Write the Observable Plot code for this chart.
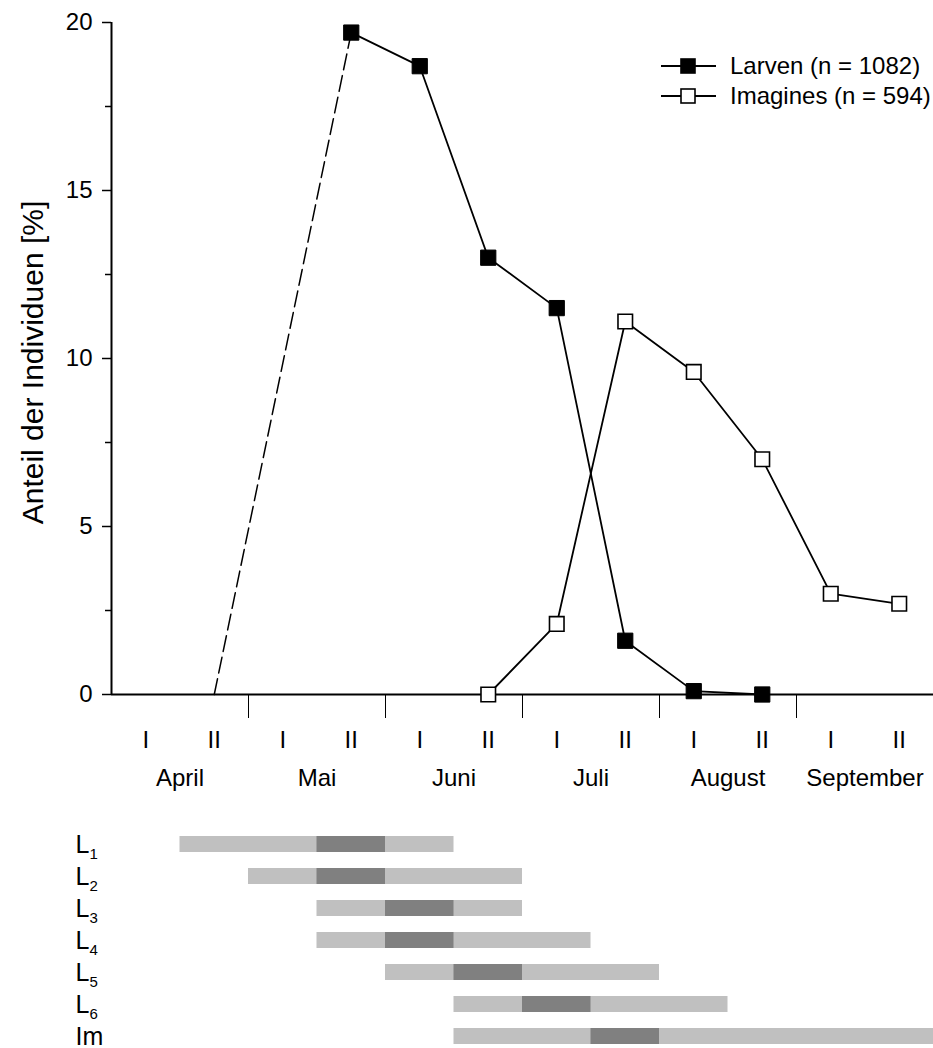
<!DOCTYPE html>
<html><head><meta charset="utf-8">
<script src="https://cdn.jsdelivr.net/npm/d3@7"></script>
<script src="https://cdn.jsdelivr.net/npm/@observablehq/plot@0.6"></script>
<style>
html,body{margin:0;padding:0;background:#fff;overflow:hidden;}
#wrap{position:relative;width:933px;font-family:"Liberation Sans",Arial,sans-serif;}
#wrap svg{display:block;}
#legend{position:absolute;left:0;top:0;pointer-events:none;}
</style></head><body><div id="wrap"></div>
<script>
// ---- data ----
const halfIdx = [0,1,2,3,4,5,6,7,8,9,10,11];
const halfLabels = ["I","II","I","II","I","II","I","II","I","II","I","II"];
const months = ["April","Mai","Juni","Juli","August","September"];
const monthPos = [0.5,2.5,4.5,6.5,8.5,10.5];
const monthSeps = [1.5,3.5,5.5,7.5,9.5];
const xDomain = [-0.5, 11.5];
const yTicks = [0,5,10,15,20];
const yMinorTicks = [2.5,7.5,12.5,17.5];

const seriesNames = ["Larven (n = 1082)", "Imagines (n = 594)"];
const larvenX = [3,4,5,6,7,8,9];
const larvenY = [19.7,18.7,13.0,11.5,1.6,0.1,0.0];
const larvenDashX = [1,3];
const larvenDashY = [0,19.7];
const imagX = [5,6,7,8,9,10,11];
const imagY = [0,2.1,11.1,9.6,7.0,3.0,2.7];

const stageMain = ["L","L","L","L","L","L","Im"];
const stageSub = ["1","2","3","4","5","6",""];
const stageFirst = [1,2,3,3,4,5,5];
const stageLast = [4,5,5,6,7,8,11];
const peakFirst = [3,3,4,4,5,6,7];
const peakLast = [3,3,4,4,5,6,7];

const yLabel = "Anteil der Individuen [%]";
const font = "Liberation Sans, Arial, sans-serif";

// ---- tables ----
const larven = larvenX.map((x,i)=>({x, y: larvenY[i]}));
const larvenDash = larvenDashX.map((x,i)=>({x, y: larvenDashY[i]}));
const imag = imagX.map((x,i)=>({x, y: imagY[i]}));
const rows = stageMain.map((m,i)=>({stage: m+stageSub[i], main: m, sub: stageSub[i],
  first: stageFirst[i], last: stageLast[i], pf: peakFirst[i], pl: peakLast[i]}));

const wrap = document.getElementById("wrap");

const topPlot = Plot.plot({
  width: 933, height: 800,
  marginTop: 22, marginBottom: 106, marginLeft: 111, marginRight: 0,
  style: {fontFamily: font, fontSize: "24px", color: "#000", background: "#fff", overflow: "visible"},
  x: {domain: xDomain, axis: null},
  y: {domain: [0, 20], axis: null},
  marks: [
    Plot.axisY({ticks: yTicks, tickSize: 9, tickPadding: 10, tickFormat: d => String(d), strokeWidth: 1.5, fontSize: 24, label: null}),
    Plot.axisY({ticks: yMinorTicks, tickSize: 6, tickFormat: () => "", strokeWidth: 1.5, label: null}),
    Plot.ruleX([xDomain[0]], {strokeWidth: 2}),
    Plot.ruleY([0], {strokeWidth: 2}),
    Plot.axisX({ticks: monthSeps, tickSize: 24, tickFormat: () => "", strokeWidth: 1, label: null}),
    Plot.axisX({ticks: halfIdx, tickSize: 0, tickPadding: 36, tickFormat: d => halfLabels[d], fontSize: 24, label: null}),
    Plot.axisX({ticks: monthPos, tickSize: 0, tickPadding: 74, tickFormat: d => months[monthPos.indexOf(d)], fontSize: 24, label: null}),
    Plot.text([yLabel], {frameAnchor: "left", dx: -78, dy: 4, rotate: -90, fontSize: 30, textAnchor: "middle"}),
    Plot.line(larvenDash, {x: "x", y: "y", stroke: "black", strokeWidth: 1.5, strokeDasharray: "16,6"}),
    Plot.line(imag, {x: "x", y: "y", stroke: "black", strokeWidth: 1.8}),
    Plot.line(larven, {x: "x", y: "y", stroke: "black", strokeWidth: 1.8}),
    Plot.dot(imag, {x: "x", y: "y", symbol: "square", r: 8.2, fill: "white", stroke: "black", strokeWidth: 1.6}),
    Plot.dot(larven, {x: "x", y: "y", symbol: "square", r: 8.6, fill: "black", stroke: "black", strokeWidth: 1})
  ]
});
wrap.appendChild(topPlot);

const botPlot = Plot.plot({
  width: 933, height: 254,
  marginTop: 26, marginBottom: 0, marginLeft: 111, marginRight: 0,
  style: {fontFamily: font, fontSize: "24px", color: "#000", background: "#fff", overflow: "visible"},
  x: {domain: xDomain, axis: null},
  y: {domain: rows.map(d => d.stage), padding: 0, axis: null},
  marks: [
    Plot.barX(rows, {x1: d => d.first - 0.5, x2: d => d.last + 0.5, y: "stage", fill: "#c0c0c0", insetTop: 8, insetBottom: 8}),
    Plot.barX(rows, {x1: d => d.pf - 0.5, x2: d => d.pl + 0.5, y: "stage", fill: "#808080", insetTop: 8, insetBottom: 8}),
    Plot.text(rows, {y: "stage", text: "main", frameAnchor: "left", dx: -36, textAnchor: "start", fontSize: 25}),
    Plot.text(rows, {y: "stage", text: "sub", frameAnchor: "left", dx: -22, dy: 10, textAnchor: "start", fontSize: 15})
  ]
});
wrap.appendChild(botPlot);

// ---- legend (overlay, top right) ----
const leg = d3.select(wrap).append("svg").attr("id", "legend").attr("width", 933).attr("height", 130)
  .style("font-family", font);
const fills = ["black", "white"];
seriesNames.forEach((name, i) => {
  const g = leg.append("g").attr("transform", `translate(0,${66 + i * 30})`);
  g.append("line").attr("x1", 661).attr("x2", 716).attr("y1", 0).attr("y2", 0).attr("stroke", "black").attr("stroke-width", 1.8);
  g.append("rect").attr("x", 681).attr("y", -7).attr("width", 14).attr("height", 14)
    .attr("fill", fills[i]).attr("stroke", "black").attr("stroke-width", 1.6);
  g.append("text").attr("x", 730).attr("y", 0).attr("dy", "0.35em").attr("font-size", 24).text(name);
});
</script></body></html>
